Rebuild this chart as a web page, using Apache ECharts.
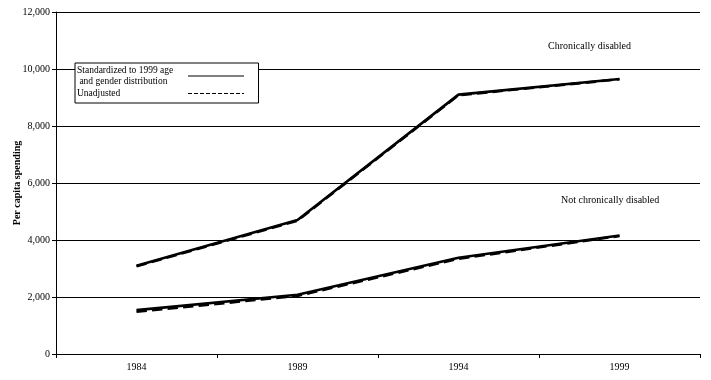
<!DOCTYPE html>
<html>
<head>
<meta charset="utf-8">
<script src="https://cdn.jsdelivr.net/npm/echarts@6/dist/echarts.min.js"></script>
<style>html,body{margin:0;padding:0;background:#fff}#c{width:711px;height:380px}</style>
</head>
<body>
<div id="c"></div>
<script>
const years = ['1984', '1989', '1994', '1999'];
const chronicStd = [3100, 4700, 9100, 9650];
const chronicUnadj = [3080, 4680, 9080, 9640];
const notChronicStd = [1540, 2080, 3380, 4160];
const notChronicUnadj = [1480, 2040, 3340, 4140];
const yTicks = [0, 2000, 4000, 6000, 8000, 10000, 12000];

const STD = 'Standardized to 1999 age\n and gender distribution';
const UNADJ = 'Unadjusted';
const font = 'Liberation Serif';

const chart = echarts.init(document.getElementById('c'));
function lineSeries(name, data, type) {
  return {
    name: name, type: 'line', data: data, symbol: 'none',
    lineStyle: { color: '#000', width: 2.6, type: type },
    itemStyle: { color: '#000' },
    z: type === 'dashed' ? 3 : 2, animation: false
  };
}
chart.setOption({
  animation: false,
  backgroundColor: '#fff',
  textStyle: { fontFamily: font, color: '#000' },
  grid: { left: 56, right: 11, top: 12, bottom: 26, outerBoundsMode: 'none', containLabel: false },
  xAxis: {
    type: 'category', data: years, boundaryGap: true,
    axisLine: { lineStyle: { color: '#000', width: 1 } },
    axisTick: { show: true, length: 4, lineStyle: { color: '#000' } },
    axisLabel: { fontFamily: font, fontSize: 10, color: '#000', margin: 8 }
  },
  yAxis: {
    type: 'value', min: yTicks[0], max: yTicks[yTicks.length - 1], interval: 2000,
    name: 'Per capita spending', nameLocation: 'middle', nameGap: 34, nameRotate: 90,
    nameMoveOverlap: false,
    nameTextStyle: { fontFamily: font, fontSize: 10, fontWeight: 'bold', color: '#000' },
    axisLine: { show: true, lineStyle: { color: '#000', width: 1 } },
    axisTick: { show: true, length: 4, lineStyle: { color: '#000' } },
    axisLabel: {
      fontFamily: font, fontSize: 10, color: '#000', margin: 6,
      formatter: v => v.toLocaleString('en-US')
    },
    splitLine: { show: true, lineStyle: { color: '#000', width: 1 } }
  },
  legend: {
    left: 75, top: 63, orient: 'vertical', align: 'right',
    data: [STD, UNADJ],
    backgroundColor: '#fff', borderColor: '#000', borderWidth: 1,
    padding: [2, 14, 4, 2], itemGap: 1,
    itemWidth: 56, itemHeight: 10,
    itemStyle: { opacity: 0 },
    lineStyle: { width: 1 },
    formatter: name => name.split('\n').map(s => '{a|' + s + '}').join('\n'),
    textStyle: {
      fontFamily: font, fontSize: 9.5, color: '#000', lineHeight: 11,
      rich: { a: { fontFamily: font, fontSize: 9.5, color: '#000', width: 106, align: 'left', lineHeight: 11 } }
    }
  },
  graphic: [
    { type: 'text', left: 548, top: 41, style: { text: 'Chronically disabled', font: '10px "Liberation Serif"', fill: '#000' } },
    { type: 'text', left: 561, top: 195, style: { text: 'Not chronically disabled', font: '10px "Liberation Serif"', fill: '#000' } }
  ],
  series: [
    lineSeries(STD, chronicStd, 'solid'),
    lineSeries(UNADJ, chronicUnadj, 'dashed'),
    lineSeries(STD, notChronicStd, 'solid'),
    lineSeries(UNADJ, notChronicUnadj, 'dashed')
  ]
});
</script>
</body>
</html>
